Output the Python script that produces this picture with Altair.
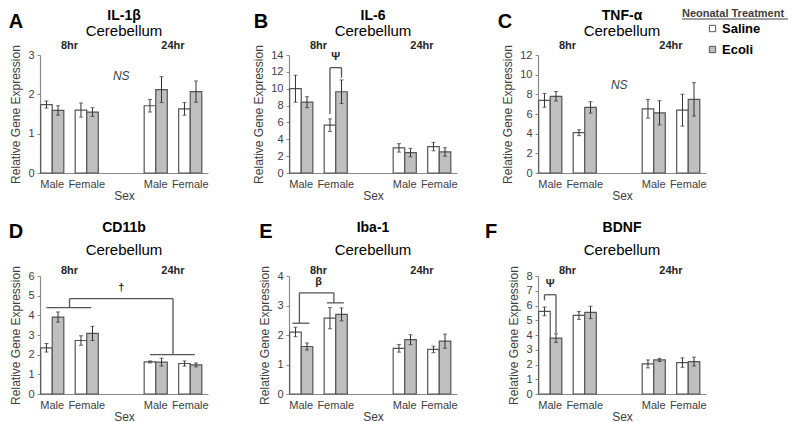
import altair as alt
import pandas as pd

FONT = "Liberation Sans"
GROUPS = ["8hr Male", "8hr Female", "gap", "24hr Male", "24hr Female"]
BAR_GROUPS = ["8hr Male", "8hr Female", "24hr Male", "24hr Female"]
TREATMENTS = ["Saline", "Ecoli"]
TIME_LABELS = ["8hr", "24hr"]
TIME_GROUPS = ["8hr Male", "24hr Male"]

genes = ["IL-1β", "IL-6", "TNF-α", "CD11b", "Iba-1", "BDNF"]
letters = ["A", "B", "C", "D", "E", "F"]
region = "Cerebellum"

# order: 8hr Male (Saline, Ecoli), 8hr Female (S, E), 24hr Male (S, E), 24hr Female (S, E)
il1b_mean = [1.74, 1.59, 1.60, 1.55, 1.71, 2.12, 1.63, 2.07]
il1b_sem = [0.09, 0.12, 0.18, 0.11, 0.16, 0.33, 0.16, 0.27]
il6_mean = [10.0, 8.4, 5.67, 9.64, 2.98, 2.42, 3.13, 2.5]
il6_sem = [1.6, 0.65, 0.75, 1.4, 0.5, 0.5, 0.5, 0.5]
tnf_mean = [7.38, 7.8, 4.1, 6.67, 6.53, 6.12, 6.39, 7.49]
tnf_sem = [0.7, 0.48, 0.3, 0.58, 0.95, 1.23, 1.62, 1.7]
cd11b_mean = [2.35, 3.91, 2.72, 3.08, 1.63, 1.62, 1.55, 1.48]
cd11b_sem = [0.22, 0.26, 0.24, 0.36, 0.05, 0.2, 0.13, 0.1]
iba1_mean = [2.1, 1.61, 2.57, 2.7, 1.55, 1.84, 1.51, 1.79]
iba1_sem = [0.16, 0.12, 0.36, 0.22, 0.13, 0.17, 0.11, 0.24]
bdnf_mean = [5.6, 3.79, 5.33, 5.53, 2.04, 2.31, 2.13, 2.2]
bdnf_sem = [0.3, 0.29, 0.27, 0.42, 0.27, 0.11, 0.32, 0.3]

y_max = [3, 14, 12, 6, 4, 8]
y_step = [1, 2, 2, 1, 1, 1]
ns_y = [2.46, None, 8.99, None, None, None]

PI = 0.33
PO = 0.1
ALIGN = 0.1
W = 168
H = 118
STEP = W / (len(GROUPS) - PI + 2 * PO)
HALF_GAP = PI * STEP / 2  # pixels from a band's end to the midpoint between two groups
MID = "mid"
AXIS_COLOR = "#8a8a8a"
TEXT_COLOR = "#404040"

# annotations: vertical legs (group, band position, y1, y2), horizontal lines (g1, bp1, g2, bp2, y), symbols (group, bp, y, text)
annotations = {
    1: dict(v=[("8hr Female", 0.25, 7.0, 12.5), ("8hr Female", 0.75, 11.3, 12.5)],
            h=[("8hr Female", 0.25, "8hr Female", 0.75, 12.5)],
            s=[("8hr Female", 0.5, 13.2, "Ψ")]),
    3: dict(v=[("8hr Male", MID, 4.39, 4.85), ("24hr Male", MID, 2.0, 4.85)],
            h=[("8hr Male", 0.25, "8hr Female", 0.7, 4.39),
               ("24hr Male", 0.25, "24hr Female", 0.7, 2.0),
               ("8hr Male", MID, "24hr Male", MID, 4.85)],
            s=[("gap", 0.5, 5.12, "†")]),
    4: dict(v=[("8hr Male", 0.42, 2.4, 3.43), ("8hr Female", 0.42, 3.09, 3.43)],
            h=[("8hr Male", 0.12, "8hr Male", 0.85, 2.4),
               ("8hr Female", 0.12, "8hr Female", 0.85, 3.09),
               ("8hr Male", 0.42, "8hr Female", 0.42, 3.43)],
            s=[("8hr Male", MID, 3.64, "β")]),
    5: dict(v=[("8hr Male", 0.25, 6.35, 6.73), ("8hr Male", 0.75, 4.13, 6.73)],
            h=[("8hr Male", 0.25, "8hr Male", 0.75, 6.73)],
            s=[("8hr Male", 0.5, 7.1, "Ψ")]),
}

# pixel placement of panel letters and titles relative to each plot area
letter_pos = [(-24, -33), (-28, -33), (-33, -33), (-24, -44), (-23, -44), (-47, -44)]
title_dy = [(-39, -24), (-39, -24), (-39, -24), (-48, -26), (-48, -26), (-48, -26)]

means = [il1b_mean, il6_mean, tnf_mean, cd11b_mean, iba1_mean, bdnf_mean]
sems = [il1b_sem, il6_sem, tnf_sem, cd11b_sem, iba1_sem, bdnf_sem]

xscale = alt.Scale(domain=GROUPS, paddingInner=PI, paddingOuter=PO, align=ALIGN)
xaxis = alt.Axis(title="Sex", labelExpr="datum.value == 'gap' ? '' : split(datum.value, ' ')[1]",
                 ticks=False, labelAngle=0, labelPadding=5, titlePadding=1)
legend = alt.Legend(orient="none", legendX=642, legendY=-47, title="Neonatal Treatment",
                    titleFontWeight="bold", titleFontSize=11, titleColor=TEXT_COLOR, titleFont=FONT,
                    labelFontSize=13, labelFontWeight="bold", labelColor="black", labelFont=FONT,
                    symbolType="square", symbolSize=40, symbolStrokeColor="#555555",
                    symbolStrokeWidth=1, rowPadding=7, titlePadding=3, labelOffset=3,
                    symbolOffset=24, padding=0)


def resolve_bp(bp):
    if bp == MID:
        return 1.0, HALF_GAP
    return bp, 0.0


def panel(i):
    row = 0 if i < 3 else 1
    ymax = y_max[i]
    df = pd.DataFrame({
        "group": [g for g in BAR_GROUPS for _ in TREATMENTS],
        "trt": TREATMENTS * len(BAR_GROUPS),
        "mean": means[i],
        "sem": sems[i],
    })
    df["lo"] = df["mean"] - df["sem"]
    df["hi"] = df["mean"] + df["sem"]
    yscale = alt.Scale(domain=[0, ymax], nice=False)
    yaxis = alt.Axis(values=list(range(0, ymax + 1, y_step[i])), title="Relative Gene Expression",
                     tickSize=3, labelPadding=3, titlePadding=5)

    def X(field="group", bp=None):
        if bp is None:
            return alt.X(f"{field}:N", scale=xscale, axis=xaxis)
        return alt.X(f"{field}:N", scale=xscale, axis=xaxis, bandPosition=bp)

    def Y(field):
        return alt.Y(f"{field}:Q", scale=yscale, axis=yaxis)

    XO = alt.XOffset("trt:N", scale=alt.Scale(domain=TREATMENTS))
    base = alt.Chart(df)
    bars = base.mark_bar(stroke="#555555", strokeWidth=1.2).encode(
        x=X(), xOffset=XO, y=Y("mean"),
        fill=alt.Fill("trt:N", scale=alt.Scale(domain=TREATMENTS, range=["#ffffff", "#bfbfbf"]),
                      legend=legend))
    err = base.mark_rule(color="#333333", strokeWidth=1).encode(
        x=X(), xOffset=XO, y=Y("lo"), y2="hi:Q")
    caps = base.transform_fold(["lo", "hi"], as_=["end", "v"]).mark_tick(
        orient="horizontal", size=4, thickness=1, color="#333333").encode(
        x=X(), xOffset=XO, y=Y("v"))

    tdf = pd.DataFrame({"group": TIME_GROUPS, "label": TIME_LABELS, "y": [ymax, ymax]})
    times = alt.Chart(tdf).mark_text(font=FONT, fontSize=11, fontWeight="bold", color="#262626",
                                     dy=-9 if row == 0 else -5, dx=HALF_GAP).encode(
        x=X(bp=1.0), y=Y("y"), text="label:N")

    lx, ly = letter_pos[i]
    letter = alt.Chart(pd.DataFrame({"t": [letters[i]]})).mark_text(
        font=FONT, fontSize=20, fontWeight="bold", color="black",
        align="center", baseline="middle").encode(
        text="t:N", x=alt.value(lx), y=alt.value(ly))

    ty, sy = title_dy[i]
    gene = alt.Chart(pd.DataFrame({"t": [genes[i]]})).mark_text(
        font=FONT, fontSize=14, fontWeight="bold", color="black",
        align="center", baseline="middle").encode(
        text="t:N", x=alt.value(W / 2), y=alt.value(ty))
    sub = alt.Chart(pd.DataFrame({"t": [region]})).mark_text(
        font=FONT, fontSize=15, color="black", align="center", baseline="middle").encode(
        text="t:N", x=alt.value(W / 2), y=alt.value(sy))

    layers = [bars, err, caps, times, letter, gene, sub]

    if ns_y[i] is not None:
        ndf = pd.DataFrame({"group": ["gap"], "y": [ns_y[i]], "t": ["NS"]})
        layers.append(alt.Chart(ndf).mark_text(font=FONT, fontSize=12, fontStyle="italic",
                                               color=TEXT_COLOR).encode(
            x=X(), y=Y("y"), text="t:N"))

    ann = annotations.get(i)
    if ann:
        for (g, bp, y1, y2) in ann["v"]:
            b, off = resolve_bp(bp)
            d = pd.DataFrame({"group": [g], "y1": [y1], "y2": [y2]})
            layers.append(alt.Chart(d).mark_rule(color="#555555", strokeWidth=1.3, xOffset=off).encode(
                x=X(bp=b), y=Y("y1"), y2="y2:Q"))
        for (g1, bp1, g2, bp2, y) in ann["h"]:
            b1, off1 = resolve_bp(bp1)
            b2, off2 = resolve_bp(bp2)
            d = pd.DataFrame({"g1": [g1], "g2": [g2], "y": [y]})
            layers.append(alt.Chart(d).mark_rule(color="#555555", strokeWidth=1.3,
                                                 xOffset=off1, x2Offset=off2).encode(
                x=X("g1", b1), x2=alt.X2("g2:N", bandPosition=b2), y=Y("y")))
        for (g, bp, y, t) in ann["s"]:
            b, off = resolve_bp(bp)
            d = pd.DataFrame({"group": [g], "y": [y], "t": [t]})
            layers.append(alt.Chart(d).mark_text(font=FONT, fontSize=11, fontWeight="bold",
                                                 color="#262626", baseline="bottom", dx=off).encode(
                x=X(bp=b), y=Y("y"), text="t:N"))

    if i == 2:
        ud = pd.DataFrame({"a": [0]})
        layers.append(alt.Chart(ud).mark_rule(color=TEXT_COLOR, strokeWidth=1).encode(
            x=alt.value(144), x2=alt.value(250), y=alt.value(-36)))

    return alt.layer(*layers).properties(width=W, height=H)


chart = alt.concat(*[panel(i) for i in range(6)], columns=3,
                   spacing={"row": 103, "column": 81}, bounds="flush").properties(
    padding={"left": 0, "top": 0, "right": 0, "bottom": 0}
).configure_view(stroke=None).configure_axis(
    labelFont=FONT, titleFont=FONT, labelFontSize=11, titleFontSize=12,
    labelColor=TEXT_COLOR, titleColor=TEXT_COLOR, titleFontWeight="normal",
    domainColor=AXIS_COLOR, tickColor=AXIS_COLOR, grid=False, domainWidth=1.2
)

chart.save("out.html", embed_options={"renderer": "svg", "actions": False})
